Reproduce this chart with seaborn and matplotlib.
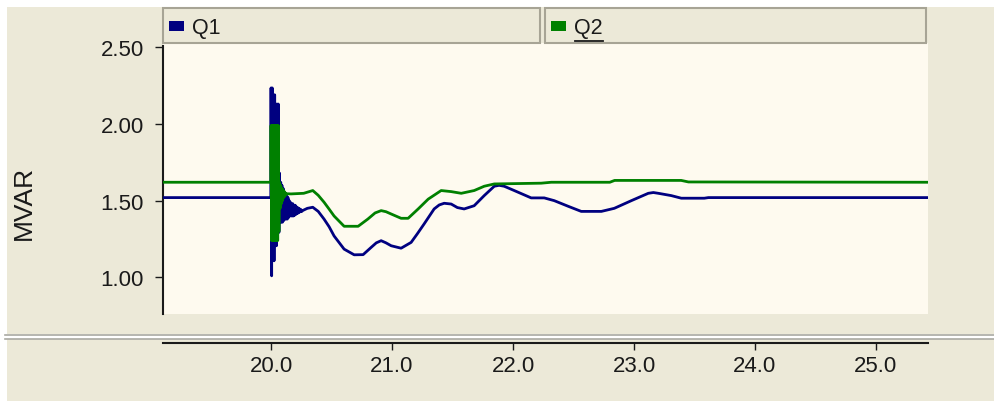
import matplotlib
matplotlib.use("Agg")
import matplotlib.pyplot as plt
from matplotlib import font_manager as fm
from matplotlib.patches import Rectangle
from matplotlib.lines import Line2D
import seaborn as sns
import pandas as pd

# ---------------- data ----------------
series_names = ["Q1", "Q2"]
y_ticks = [1.00, 1.50, 2.00, 2.50]
x_ticks = [20.0, 21.0, 22.0, 23.0, 24.0, 25.0]

# steady state before the disturbance
q1_pre_t = [19.10, 19.998]
q1_pre_v = [1.52, 1.52]
q2_pre_t = [19.10, 19.998]
q2_pre_v = [1.62, 1.62]

# fast oscillation right after t = 20.0 s (upper / lower swings)
q1_hi_t = [20.000, 20.010, 20.020, 20.030, 20.040, 20.050, 20.060, 20.070, 20.080,
           20.090, 20.100, 20.110, 20.120, 20.130, 20.140, 20.150, 20.160, 20.170,
           20.180, 20.190, 20.200, 20.210, 20.220, 20.230, 20.240, 20.250]
q1_hi_v = [2.235, 2.235, 2.19, 2.19, 2.13, 2.13, 2.13, 1.68, 1.62,
           1.60, 1.58, 1.55, 1.54, 1.53, 1.52, 1.50, 1.49, 1.48,
           1.48, 1.47, 1.47, 1.46, 1.455, 1.45, 1.445, 1.44]
q1_lo_t = [20.005, 20.015, 20.025, 20.035, 20.045, 20.055, 20.065, 20.075, 20.085,
           20.095, 20.105, 20.115, 20.125, 20.135, 20.145, 20.155, 20.165, 20.175,
           20.185, 20.195, 20.205, 20.215, 20.225, 20.235, 20.245, 20.255]
q1_lo_v = [1.01, 1.108, 1.108, 1.206, 1.206, 1.293, 1.293, 1.359, 1.359,
           1.36, 1.37, 1.38, 1.38, 1.38, 1.39, 1.40, 1.40, 1.40,
           1.40, 1.405, 1.41, 1.415, 1.42, 1.425, 1.43, 1.43]

q2_hi_t = [20.000, 20.010, 20.020, 20.030, 20.040, 20.050, 20.060, 20.070, 20.080,
           20.090, 20.100, 20.110, 20.120]
q2_hi_v = [1.99, 1.99, 1.99, 1.99, 1.99, 1.99, 1.99, 1.62, 1.60,
           1.58, 1.57, 1.56, 1.55]
q2_lo_t = [20.005, 20.015, 20.025, 20.035, 20.045, 20.055, 20.065, 20.075, 20.085,
           20.095, 20.105, 20.115, 20.125]
q2_lo_v = [1.24, 1.24, 1.24, 1.24, 1.24, 1.24, 1.30, 1.45, 1.48,
           1.50, 1.52, 1.53, 1.54]

# slow swing and settling
q1_t = [20.26, 20.30, 20.345, 20.39, 20.438, 20.48, 20.521, 20.604, 20.687, 20.761,
        20.827, 20.870, 20.910, 20.950, 20.993, 21.075, 21.158, 21.210, 21.265, 21.348,
        21.390, 21.431, 21.489, 21.540, 21.596, 21.679, 21.762, 21.845, 21.885, 21.927,
        22.010, 22.150, 22.258, 22.341, 22.457, 22.564, 22.730, 22.837, 22.978, 23.118,
        23.160, 23.201, 23.308, 23.391, 23.581, 23.615, 25.45]
q1_v = [1.435, 1.45, 1.457, 1.43, 1.38, 1.33, 1.27, 1.184, 1.147, 1.148,
        1.195, 1.225, 1.239, 1.225, 1.206, 1.19, 1.228, 1.285, 1.348, 1.446,
        1.472, 1.483, 1.478, 1.455, 1.446, 1.467, 1.533, 1.594, 1.600, 1.594,
        1.566, 1.518, 1.518, 1.50, 1.463, 1.43, 1.43, 1.45, 1.50, 1.548,
        1.553, 1.548, 1.533, 1.516, 1.516, 1.52, 1.52]

q2_t = [20.13, 20.165, 20.27, 20.345, 20.39, 20.438, 20.48, 20.521, 20.604, 20.72,
        20.80, 20.86, 20.91, 20.95, 20.993, 21.075, 21.133, 21.216, 21.299, 21.406,
        21.489, 21.572, 21.679, 21.762, 21.845, 22.233, 22.316, 22.80, 22.84, 23.39,
        23.45, 25.45]
q2_v = [1.545, 1.544, 1.548, 1.566, 1.535, 1.49, 1.445, 1.40, 1.333, 1.333,
        1.38, 1.42, 1.435, 1.428, 1.413, 1.385, 1.385, 1.446, 1.51, 1.566,
        1.559, 1.548, 1.566, 1.594, 1.609, 1.614, 1.62, 1.62, 1.632, 1.632,
        1.622, 1.62]


def build(pre_t, pre_v, hi_t, hi_v, lo_t, lo_v, t, v):
    spike = pd.DataFrame({"t": hi_t + lo_t, "v": hi_v + lo_v}).sort_values("t")
    df = pd.concat([pd.DataFrame({"t": pre_t, "v": pre_v}), spike,
                    pd.DataFrame({"t": t, "v": v})], ignore_index=True)
    return df


df1 = build(q1_pre_t, q1_pre_v, q1_hi_t, q1_hi_v, q1_lo_t, q1_lo_v, q1_t, q1_v)
df2 = build(q2_pre_t, q2_pre_v, q2_hi_t, q2_hi_v, q2_lo_t, q2_lo_v, q2_t, q2_v)

# ---------------- styling ----------------
BEIGE = "#ECE9D8"
CREAM = "#FEFAEF"
BLUE = "#000080"
GREEN = "#008000"
INK = "#1A1A1A"

names = {f.name for f in fm.fontManager.ttflist}
if "Liberation Sans Narrow" in names:
    FONT = "Liberation Sans Narrow"
    fs_tick, fs_lab, fs_leg = 18.5, 22, 16.5
else:
    FONT = "Liberation Sans"
    fs_tick, fs_lab, fs_leg = 16, 19, 15.5
plt.rcParams["font.family"] = [FONT, "DejaVu Sans"]

W, H = 995, 402
fig = plt.figure(figsize=(W / 100, H / 100), dpi=100, facecolor=BEIGE)


def fx(px):
    return px / W


def fy(py):
    return 1 - py / H


# white window border strips
fig.patches.append(Rectangle((0, fy(8)), 1, 8 / H, transform=fig.transFigure,
                             facecolor="white", edgecolor="none", zorder=0))
fig.patches.append(Rectangle((0, 0), fx(7), 1, transform=fig.transFigure,
                             facecolor="white", edgecolor="none", zorder=0))
# panel separator
fig.patches.append(Rectangle((fx(5), fy(340)), 1, 5 / H, transform=fig.transFigure,
                             facecolor="white", edgecolor="none", zorder=1))
for yy in (335.5, 339.5):
    fig.lines.append(Line2D([fx(5), 1], [fy(yy), fy(yy)], transform=fig.transFigure,
                            color="#A9A9A2", lw=1.2, zorder=2))

# main axes
L, R, T, B = 163, 928, 44, 315
ax = fig.add_axes([fx(L), fy(B), fx(R - L), (B - T) / H])
ax.set_facecolor(CREAM)

sns.lineplot(data=df1, x="t", y="v", ax=ax, color=BLUE, lw=2.0, sort=False,
             estimator=None, zorder=3)
sns.lineplot(data=df2, x="t", y="v", ax=ax, color=GREEN, lw=2.0, sort=False,
             estimator=None, zorder=4)

ax.set_xlim(19.107, 25.43)
ax.set_ylim(0.761, 2.528)
ax.set_xlabel("")
ax.set_ylabel("")
ax.set_yticks(y_ticks)
ax.set_yticklabels([f"{v:.2f}" for v in y_ticks])
ax.set_xticks(x_ticks)
ax.set_xticklabels([f"{v:.1f}" for v in x_ticks])

for s in ("top", "right"):
    ax.spines[s].set_visible(False)
ax.spines["left"].set_color(INK)
ax.spines["left"].set_linewidth(1.5)
ax.spines["left"].set_bounds(0.761, 2.51)
ax.spines["bottom"].set_color(INK)
ax.spines["bottom"].set_linewidth(1.5)
ax.spines["bottom"].set_position(("outward", 29 * 0.72))

ax.tick_params(axis="y", direction="out", length=5.8, width=1.0, color=INK,
               pad=8.0, labelsize=fs_tick, labelcolor=INK)
ax.tick_params(axis="x", direction="out", length=5.0, width=1.0, color=INK,
               pad=4.0, labelsize=fs_tick, labelcolor=INK)
for lab in ax.get_xticklabels() + ax.get_yticklabels():
    lab.set_family([FONT, "DejaVu Sans"])

fig.text(fx(24), fy(203), "MVAR", rotation=90, ha="center", va="center",
         fontsize=fs_lab, color=INK)

# legend header boxes
boxes = [(163, 540, BLUE, "Q1", False), (545, 926, GREEN, "Q2", True)]
for x0, x1, col, name, underline in boxes:
    fig.patches.append(Rectangle((fx(x0), fy(44)), fx(x1 - x0), 35.5 / H,
                                 transform=fig.transFigure, facecolor=BEIGE,
                                 edgecolor="#A7A495", lw=1.5, zorder=3))
    fig.patches.append(Rectangle((fx(x0 + 6), fy(32)), fx(15), 10 / H,
                                 transform=fig.transFigure, facecolor=col,
                                 edgecolor="none", zorder=4))
    t = fig.text(fx(x0 + 29), fy(28.5), name, ha="left", va="center",
                 fontsize=fs_leg, color=INK, zorder=5)
    if underline:
        fig.lines.append(Line2D([fx(x0 + 30), fx(x0 + 58)], [fy(41.5), fy(41.5)],
                                transform=fig.transFigure, color=INK, lw=1.3,
                                zorder=5))

fig.savefig("out.png", dpi=100, facecolor=fig.get_facecolor())
